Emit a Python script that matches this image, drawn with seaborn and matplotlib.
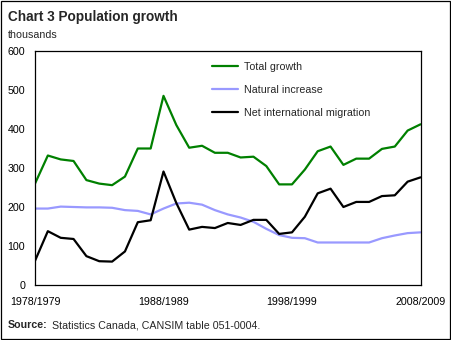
import matplotlib
matplotlib.use("Agg")
import matplotlib.pyplot as plt
from matplotlib.lines import Line2D
from matplotlib.patches import Rectangle
import pandas as pd
import seaborn as sns

# Fiscal years 1978/1979 .. 2008/2009
periods = [f"{y}/{y + 1}" for y in range(1978, 2009)]
tick_labels = ["1978/1979", "1988/1989", "1998/1999", "2008/2009"]

# thousands of persons
total_growth = [260, 332, 322, 318, 269, 260, 256, 278, 350, 350,
                485, 410, 352, 357, 339, 339, 327, 329, 305, 258,
                258, 296, 343, 355, 308, 324, 324, 349, 355, 396, 412]
natural_increase = [196, 196, 201, 200, 199, 199, 198, 192, 190, 181,
                    196, 209, 211, 206, 192, 181, 173, 162, 144, 128,
                    121, 120, 109, 109, 109, 109, 109, 120, 127, 133, 135]
net_migration = [62, 138, 121, 118, 74, 61, 60, 86, 161, 166,
                 291, 210, 142, 149, 146, 159, 154, 167, 167, 131,
                 135, 175, 235, 247, 200, 213, 213, 228, 230, 265, 276]

series_names = ["Total growth", "Natural increase", "Net international migration"]
colors = {"Total growth": "#008000",
          "Natural increase": "#9999FF",
          "Net international migration": "#000000"}

n = len(periods)
df = pd.DataFrame({
    "idx": list(range(n)) * 3,
    "period": periods * 3,
    "value": total_growth + natural_increase + net_migration,
    "series": [s for s in series_names for _ in range(n)],
})

sns.set_style("white")
plt.rcParams["font.family"] = ["Liberation Sans", "DejaVu Sans"]

W, H = 451, 340
fig = plt.figure(figsize=(W / 100, H / 100), dpi=100)
fig.patch.set_facecolor("white")

left, right, top, bottom = 35, 420.5, 51, 285
ax = fig.add_axes([left / W, (H - bottom) / H, (right - left) / W, (bottom - top) / H])

sns.lineplot(data=df, x="idx", y="value", hue="series", hue_order=series_names,
             palette=colors, linewidth=1.6, legend=False, ax=ax)

ax.set_xlim(0, n - 1)
ax.set_ylim(0, 600)
ax.set_yticks(range(0, 601, 100))
ax.set_xticks(range(n), minor=True)
ax.set_xticks([0, 10, 20, 30])
ax.set_xticklabels(tick_labels)
ax.set_xlabel("")
ax.set_ylabel("")

fs = 7.7
ax.tick_params(axis="x", which="both", direction="in", length=2.2, width=0.8,
               color="black", labelsize=fs, pad=8.5, labelcolor="black")
ax.tick_params(axis="y", which="both", length=0, labelsize=fs, pad=7.2,
               labelcolor="black")
for sp in ax.spines.values():
    sp.set_visible(True)
    sp.set_color("black")
    sp.set_linewidth(0.9)

handles = [Line2D([], [], color=colors[s], linewidth=1.6) for s in series_names]
ax.legend(handles, series_names, loc="upper left",
          bbox_to_anchor=(212 / W, 1 - 62 / H), bbox_transform=fig.transFigure,
          frameon=False, borderpad=0, borderaxespad=0, fontsize=fs,
          handlelength=2.4, handletextpad=0.55, labelspacing=1.2)

fig.text(8 / W, 1 - 20.5 / H, "Chart 3 Population growth", fontsize=9.8,
         fontweight="bold", va="baseline", ha="left")
fig.text(8 / W, 1 - 38.5 / H, "thousands", fontsize=fs, va="baseline", ha="left")

src = fig.text(8 / W, 1 - 328 / H, "Source:", fontsize=fs, fontweight="bold",
               va="baseline", ha="left")
ax.annotate("Statistics Canada, CANSIM table 051-0004.", xy=(1, 0), xycoords=src,
            xytext=(3, 0), textcoords="offset points",
            va="bottom", ha="left", fontsize=fs, annotation_clip=False)

fig.patches.append(Rectangle((0.5 / W, 1.5 / H), 449 / W, 338 / H,
                             transform=fig.transFigure, fill=False,
                             edgecolor="black", linewidth=0.9))

fig.savefig("out.png", dpi=100)
